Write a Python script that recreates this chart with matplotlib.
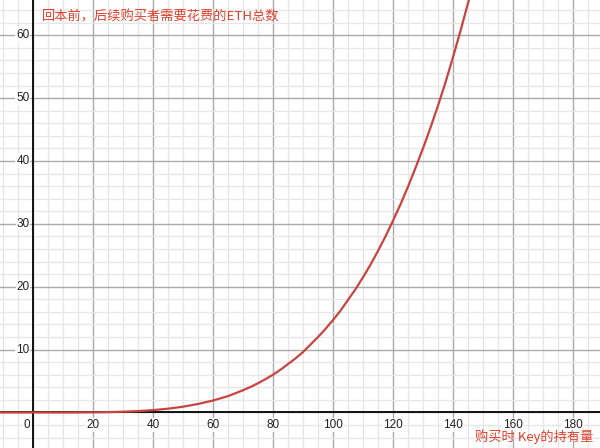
import matplotlib
matplotlib.use("Agg")
import matplotlib.pyplot as plt
from matplotlib.ticker import MultipleLocator

plt.rcParams['font.family'] = ['Noto Sans CJK SC', 'DejaVu Sans']

# values
holdings = [-11, -5, 0, 5, 10, 15, 20, 25, 30, 35, 40, 45, 50, 55, 60, 65, 70,
            72.5, 75, 77.5, 80, 82.5, 85, 87.5, 90, 92.5, 95, 97.5, 100, 102.5,
            105, 107.5, 110, 112.5, 115, 117.5, 120, 122.5, 125, 127.5, 130,
            132.5, 135, 137.5, 140, 142.5, 145, 147.5, 150]
total_eth = [0, 0, 0, 0.0001, 0.0015, 0.007, 0.024, 0.057, 0.12, 0.22, 0.38, 0.60,
             0.92, 1.35, 1.9, 2.6, 3.53,
             4.06, 4.65, 5.3, 6.0, 6.8, 7.7, 8.6, 9.6, 10.8, 12.0, 13.3, 14.7, 16.2,
             17.9, 19.6, 21.5, 23.5, 25.7, 28.0, 30.5, 33.1, 35.9, 38.9, 42.0,
             45.3, 48.8, 52.5, 56.5, 60.7, 65.1, 69.7, 74.4]
x_ticks = [0, 20, 40, 60, 80, 100, 120, 140, 160, 180]
y_ticks = [10, 20, 30, 40, 50, 60]
title_text = "回本前，后续购买者需要花费的ETH总数"
xlabel_text = "购买时 Key的持有量"

fig = plt.figure(figsize=(6, 4.48), dpi=100)
ax = fig.add_axes([0, 0, 1, 1])
ax.set_xlim(-11, 189)
ax.set_ylim(-5.65, 65.6)

ax.xaxis.set_major_locator(MultipleLocator(20))
ax.xaxis.set_minor_locator(MultipleLocator(5))
ax.yaxis.set_major_locator(MultipleLocator(10))
ax.yaxis.set_minor_locator(MultipleLocator(2))
ax.grid(which='minor', color='#e6e6e6', lw=0.9, zorder=0)
ax.grid(which='major', color='#aaaaaa', lw=1.0, zorder=0)
ax.tick_params(which='both', length=0, labelbottom=False, labelleft=False)
for s in ax.spines.values():
    s.set_visible(False)
ax.set_axisbelow(True)

ax.axhline(0, color='#111111', lw=1.4, zorder=2)
ax.axvline(0, color='#111111', lw=1.4, zorder=2)

ax.plot(holdings, total_eth, color='#c74440', lw=1.6, zorder=3,
        solid_joinstyle='round', solid_capstyle='round')

bbox = dict(facecolor='white', edgecolor='none', pad=0.6, alpha=0.9)
for t in x_ticks:
    ax.annotate(str(t), xy=(t, 0), xytext=(-2 if t == 0 else 0, -9),
                textcoords='offset points', ha='right' if t == 0 else 'center',
                va='center', fontsize=8.5, color='#222222', bbox=bbox, zorder=4,
                family='Liberation Sans')
for t in y_ticks:
    ax.annotate(str(t), xy=(0, t), xytext=(-2.5, 0), textcoords='offset points',
                ha='right', va='center', fontsize=8.5, color='#222222', bbox=bbox,
                zorder=4, family='Liberation Sans')

ax.text(42 / 600, 1 - 17 / 448, title_text, transform=ax.transAxes,
        ha='left', va='center', fontsize=9.5, color='#e0402c', zorder=5)
ax.text(593 / 600, 1 - 437 / 448, xlabel_text, transform=ax.transAxes,
        ha='right', va='center', fontsize=9.5, color='#e0402c', zorder=5)

fig.savefig('out.png', dpi=100)
